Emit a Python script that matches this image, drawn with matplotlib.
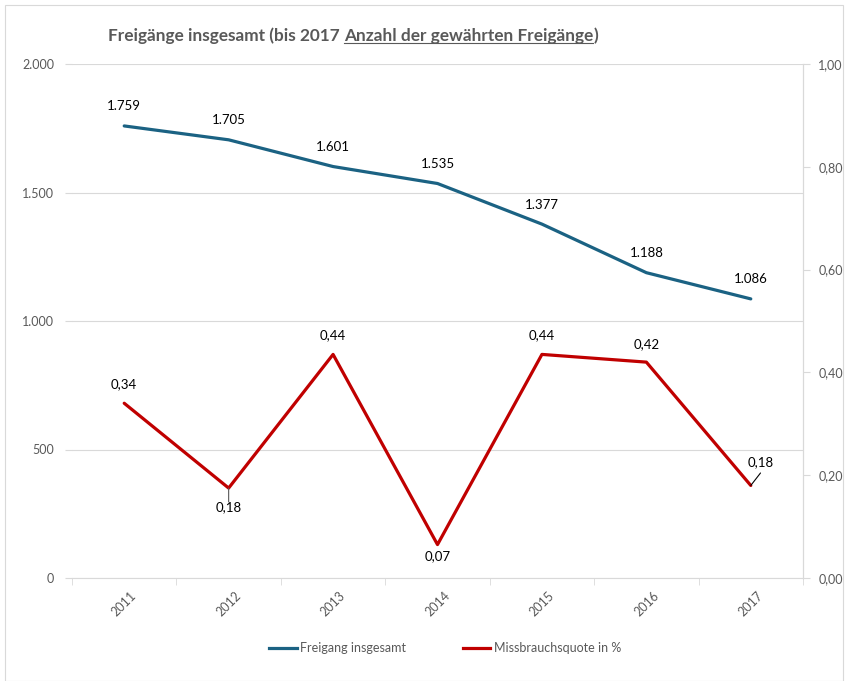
import matplotlib.pyplot as plt
from matplotlib.lines import Line2D
from matplotlib.patches import Rectangle

years = ['2011', '2012', '2013', '2014', '2015', '2016', '2017']
freigang = [1759, 1705, 1601, 1535, 1377, 1188, 1086]
quote = [0.34, 0.175, 0.435, 0.065, 0.435, 0.42, 0.18]
quote_labels = ['0,34', '0,18', '0,44', '0,07', '0,44', '0,42', '0,18']

blue = '#1b6283'
red = '#c00000'
gray = '#595959'
grid = '#d9d9d9'

plt.rcParams['font.family'] = ['Lato', 'DejaVu Sans']

fig = plt.figure(figsize=(8.48, 6.81), dpi=100)
fig.patches.append(Rectangle((5 / 848, 0), 838 / 848, 676 / 681, transform=fig.transFigure,
                             fill=False, edgecolor='#d9d9d9', linewidth=0.8))

ax = fig.add_axes([72 / 848, 1 - 578 / 681, 731 / 848, 514 / 681])
ax2 = ax.twinx()
x = list(range(len(years)))

ax.plot(x, freigang, color=blue, linewidth=2.3, solid_capstyle='round')
ax2.plot(x, quote, color=red, linewidth=2.3, solid_capstyle='round')

ax.set_xlim(-0.5, len(years) - 0.5)
ax.set_ylim(0, 2000)
ax2.set_ylim(0, 1.0)
ax.set_yticks([0, 500, 1000, 1500, 2000])
ax.set_yticklabels(['0', '500', '1.000', '1.500', '2.000'])
ax2.set_yticks([0, 0.2, 0.4, 0.6, 0.8, 1.0])
ax2.set_yticklabels(['0,00', '0,20', '0,40', '0,60', '0,80', '1,00'])
ax.grid(axis='y', color=grid, linewidth=0.8)
ax.set_axisbelow(True)

ax.set_xticks(x)
ax.set_xticklabels(years, rotation=45, ha='center')
ax.set_xticks([i - 0.5 for i in range(len(years) + 1)], minor=True)
ax.tick_params(axis='x', which='major', length=0, pad=8, labelsize=9, labelcolor=gray)
ax.tick_params(axis='x', which='minor', length=5, color=grid)
ax.tick_params(axis='y', length=5, color=grid, labelsize=9, labelcolor=gray, pad=8)
ax2.tick_params(axis='y', length=5, color=grid, labelsize=9, labelcolor=gray, pad=6)

for a in (ax, ax2):
    for s in ('top', 'left'):
        a.spines[s].set_visible(False)
    a.spines['bottom'].set_color(grid)
    a.spines['right'].set_color(grid)
ax2.spines['bottom'].set_visible(False)

# data labels
for i, v in enumerate(freigang):
    ax.annotate(f'{v:,}'.replace(',', '.'), (i, v), xytext=(0, 14), textcoords='offset points',
                ha='center', va='center', fontsize=9.5, color='black')

red_offsets = [(0, 14), (0, -14), (0, 14), (0, -8), (0, 14), (0, 13), (7, 17)]
for i, (v, lab) in enumerate(zip(quote, quote_labels)):
    dx, dy = red_offsets[i]
    ax2.annotate(lab, (i, v), xytext=(dx, dy), textcoords='offset points',
                 ha='center', va='center', fontsize=9.5, color='black')

# leader lines
ax2.annotate('', (1, quote[1]), xytext=(0, -10), textcoords='offset points',
             arrowprops=dict(arrowstyle='-', color=gray, lw=0.8, shrinkA=0, shrinkB=0))
ax2.annotate('', (6, quote[6]), xytext=(7, 9), textcoords='offset points',
             arrowprops=dict(arrowstyle='-', color='black', lw=0.8, shrinkA=0, shrinkB=0))

# title with underlined part
tsize = 12.4
t1 = fig.text(108 / 848, 1 - 36 / 681, 'Freigänge insgesamt (bis 2017 ', fontsize=tsize,
              fontweight='bold', color=gray, va='center', ha='left')
fig.canvas.draw()
r = fig.canvas.get_renderer()
bb1 = t1.get_window_extent(r)
t2 = fig.text(bb1.x1 / 848, 1 - 36 / 681, 'Anzahl der gewährten Freigänge', fontsize=tsize,
              fontweight='bold', color=gray, va='center', ha='left')
bb2 = t2.get_window_extent(r)
t3 = fig.text(bb2.x1 / 848, 1 - 36 / 681, ')', fontsize=tsize,
              fontweight='bold', color=gray, va='center', ha='left')
uy = (bb2.y0 + 1) / 681
fig.lines.append(Line2D([bb2.x0 / 848, bb2.x1 / 848], [uy, uy], transform=fig.transFigure,
                        color=gray, linewidth=0.8))

handles = [Line2D([], [], color=blue, linewidth=2.3), Line2D([], [], color=red, linewidth=2.3)]
fig.legend(handles, ['Freigang insgesamt', 'Missbrauchsquote in %'], loc='center',
           bbox_to_anchor=(445 / 848, 1 - 648 / 681), ncol=2, frameon=False,
           fontsize=9, labelcolor=gray, handlelength=2.2, handletextpad=0.3, columnspacing=4.5)

fig.savefig('out.png', dpi=100)
